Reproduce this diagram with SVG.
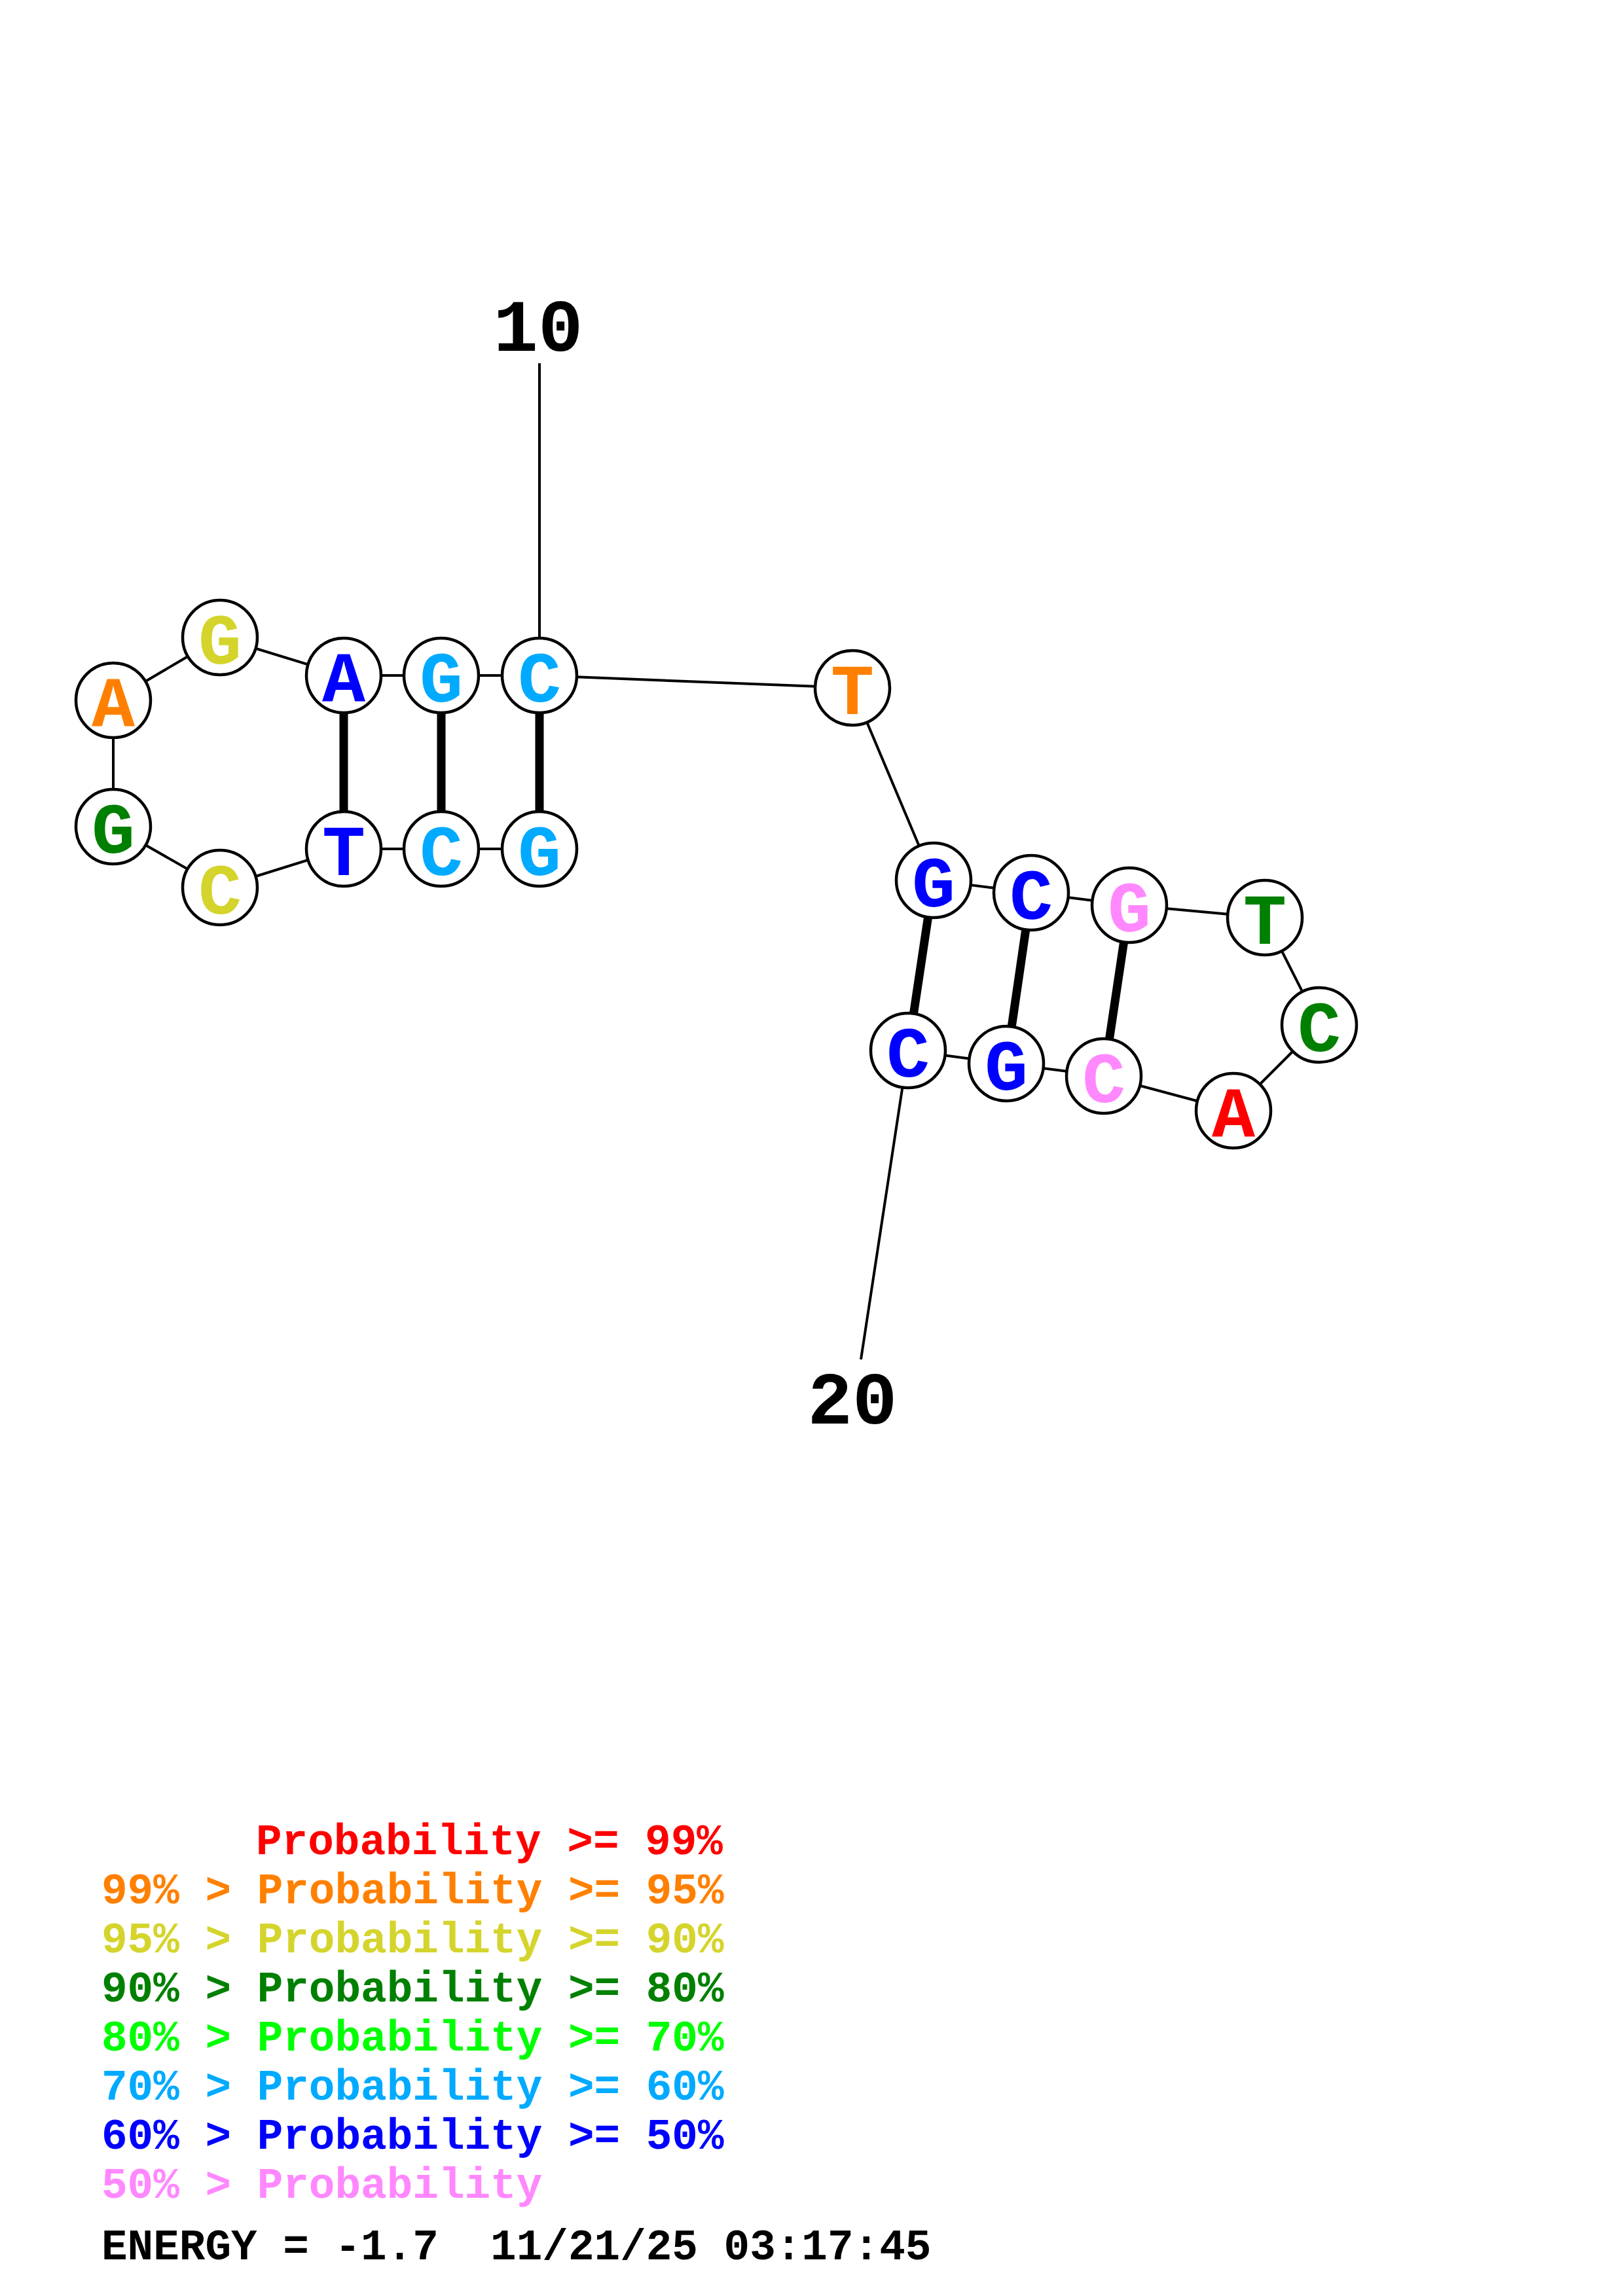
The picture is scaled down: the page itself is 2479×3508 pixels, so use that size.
<svg xmlns="http://www.w3.org/2000/svg" width="2479" height="3508" viewBox="0 0 2479 3508">
<style>
.bb{stroke:#000;stroke-width:4;fill:none}
.bp{stroke:#000;stroke-width:13;fill:none}
.nd circle{fill:#fff;stroke:#000;stroke-width:4.5}
.nd text{font-family:"Liberation Mono","Courier New",monospace;font-weight:bold;font-size:110px;text-anchor:middle}
.num{font-family:"Liberation Mono","Courier New",monospace;font-weight:bold;font-size:114px;text-anchor:middle;fill:#000}
.lg{font-family:"Liberation Mono","Courier New",monospace;font-weight:bold;font-size:66px}
</style>
<rect width="2479" height="3508" fill="#fff"/>
<g id="connectors">
<polyline class="bb" points="824,555 824,1032"/>
<polyline class="bb" points="824,1297 674,1297 525,1297 336,1356 173,1263 173,1070 336,974 525,1032 674,1032 824,1032 1302,1051 1426,1345 1575,1364 1725,1383 1932,1402 2015,1566 1884,1697 1686,1644 1537,1625 1387,1605 1315,2077"/>
<line class="bp" x1="525" y1="1032" x2="525" y2="1297"/>
<line class="bp" x1="674" y1="1032" x2="674" y2="1297"/>
<line class="bp" x1="824" y1="1032" x2="824" y2="1297"/>
<line class="bp" x1="1426" y1="1345" x2="1387" y2="1605"/>
<line class="bp" x1="1575" y1="1364" x2="1537" y2="1625"/>
<line class="bp" x1="1725" y1="1383" x2="1686" y2="1644"/>
</g>
<g id="n1" class="nd"><circle cx="824" cy="1297" r="57"/><text x="824" y="1337" fill="#00AAFF">G</text></g>
<g id="n2" class="nd"><circle cx="674" cy="1297" r="57"/><text x="674" y="1337" fill="#00AAFF">C</text></g>
<g id="n3" class="nd"><circle cx="525" cy="1297" r="57"/><text x="525" y="1337" fill="#0000FF">T</text></g>
<g id="n4" class="nd"><circle cx="336" cy="1356" r="57"/><text x="336" y="1396" fill="#D4D42C">C</text></g>
<g id="n5" class="nd"><circle cx="173" cy="1263" r="57"/><text x="173" y="1303" fill="#008000">G</text></g>
<g id="n6" class="nd"><circle cx="173" cy="1070" r="57"/><text x="173" y="1110" fill="#FF8000">A</text></g>
<g id="n7" class="nd"><circle cx="336" cy="974" r="57"/><text x="336" y="1014" fill="#D4D42C">G</text></g>
<g id="n8" class="nd"><circle cx="525" cy="1032" r="57"/><text x="525" y="1072" fill="#0000FF">A</text></g>
<g id="n9" class="nd"><circle cx="674" cy="1032" r="57"/><text x="674" y="1072" fill="#00AAFF">G</text></g>
<g id="n10" class="nd"><circle cx="824" cy="1032" r="57"/><text x="824" y="1072" fill="#00AAFF">C</text></g>
<g id="n11" class="nd"><circle cx="1302" cy="1051" r="57"/><text x="1302" y="1091" fill="#FF8000">T</text></g>
<g id="n12" class="nd"><circle cx="1426" cy="1345" r="57"/><text x="1426" y="1385" fill="#0000FF">G</text></g>
<g id="n13" class="nd"><circle cx="1575" cy="1364" r="57"/><text x="1575" y="1404" fill="#0000FF">C</text></g>
<g id="n14" class="nd"><circle cx="1725" cy="1383" r="57"/><text x="1725" y="1423" fill="#FF88FF">G</text></g>
<g id="n15" class="nd"><circle cx="1932" cy="1402" r="57"/><text x="1932" y="1442" fill="#008000">T</text></g>
<g id="n16" class="nd"><circle cx="2015" cy="1566" r="57"/><text x="2015" y="1606" fill="#008000">C</text></g>
<g id="n17" class="nd"><circle cx="1884" cy="1697" r="57"/><text x="1884" y="1737" fill="#FF0000">A</text></g>
<g id="n18" class="nd"><circle cx="1686" cy="1644" r="57"/><text x="1686" y="1684" fill="#FF88FF">C</text></g>
<g id="n19" class="nd"><circle cx="1537" cy="1625" r="57"/><text x="1537" y="1665" fill="#0000FF">G</text></g>
<g id="n20" class="nd"><circle cx="1387" cy="1605" r="57"/><text x="1387" y="1645" fill="#0000FF">C</text></g>
<text class="num" x="822" y="536">10</text>
<text class="num" x="1302" y="2175">20</text>
<g id="legend" class="lg">
<text x="391" y="2833" fill="#FF0000">Probability &gt;= 99%</text>
<text x="155" y="2908" fill="#FF8000">99% &gt; Probability &gt;= 95%</text>
<text x="155" y="2983" fill="#D4D42C">95% &gt; Probability &gt;= 90%</text>
<text x="155" y="3058" fill="#008000">90% &gt; Probability &gt;= 80%</text>
<text x="155" y="3133" fill="#00FF00">80% &gt; Probability &gt;= 70%</text>
<text x="155" y="3208" fill="#00AAFF">70% &gt; Probability &gt;= 60%</text>
<text x="155" y="3283" fill="#0000FF">60% &gt; Probability &gt;= 50%</text>
<text x="155" y="3358" fill="#FF88FF">50% &gt; Probability</text>
<text x="155" y="3452" fill="#000" xml:space="preserve">ENERGY = -1.7  11/21/25 03:17:45</text>
</g>
</svg>
